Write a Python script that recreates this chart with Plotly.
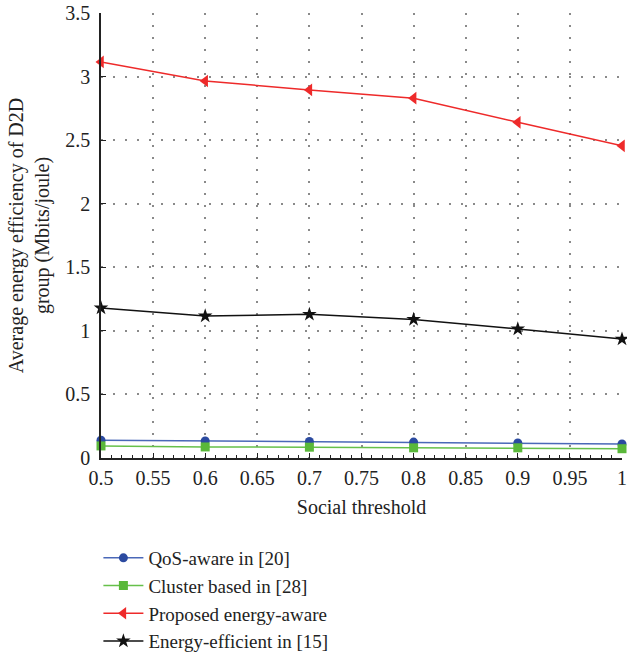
import plotly.graph_objects as go

# Social threshold values (x axis)
social_threshold = [0.5, 0.6, 0.7, 0.8, 0.9, 1.0]

# Average energy efficiency of D2D group (Mbits/joule)
qos_aware = [0.14, 0.134, 0.13, 0.125, 0.118, 0.11]
cluster_based = [0.095, 0.087, 0.085, 0.08, 0.08, 0.073]
proposed = [3.115, 2.965, 2.895, 2.83, 2.64, 2.455]
energy_efficient = [1.18, 1.117, 1.13, 1.09, 1.015, 0.935]

x_ticks = [0.5, 0.55, 0.6, 0.65, 0.7, 0.75, 0.8, 0.85, 0.9, 0.95, 1.0]
x_tick_text = ["0.5", "0.55", "0.6", "0.65", "0.7", "0.75", "0.8", "0.85", "0.9", "0.95", "1"]
y_ticks = [0, 0.5, 1, 1.5, 2, 2.5, 3, 3.5]
y_tick_text = ["0", "0.5", "1", "1.5", "2", "2.5", "3", "3.5"]

FONT = "Liberation Serif"
INK = "#222222"

fig = go.Figure()

series = [
    ("QoS-aware in [20]", qos_aware, "#4a68b8", "#2b4aa0", "circle", 9),
    ("Cluster based in [28]", cluster_based, "#66c04a", "#5ab83a", "square", 9),
    ("Proposed energy-aware", proposed, "#ee2a2a", "#ee2a2a", "triangle-left", 11),
    ("Energy-efficient in [15]", energy_efficient, "#111111", "#111111", "star", 11),
]
for name, vals, lcol, mcol, sym, size in series:
    fig.add_trace(go.Scatter(
        x=social_threshold, y=vals, name=name, mode="lines+markers",
        line=dict(color=lcol, width=1.5),
        marker=dict(symbol=sym, size=size, color=mcol, line=dict(width=0)),
        cliponaxis=False,
    ))

grid = dict(showgrid=True, gridcolor="#8a8a8a", griddash="2px,10px", gridwidth=1.5)

fig.update_xaxes(
    range=[0.5, 1.0], tickvals=x_ticks, ticktext=x_tick_text,
    ticks="inside", ticklen=5, tickcolor=INK, ticklabelstandoff=1,
    tickfont=dict(size=20),
    minor=dict(dtick=0.01, ticks="inside", ticklen=3, tickcolor=INK, showgrid=False),
    showline=True, linecolor=INK, linewidth=1.5,
    zeroline=False, title=dict(text="Social threshold", standoff=12, font=dict(size=20)),
    **grid,
)
fig.update_yaxes(
    range=[0, 3.5], tickvals=y_ticks, ticktext=y_tick_text,
    ticks="inside", ticklen=5, tickcolor=INK, ticklabelstandoff=5,
    tickfont=dict(size=20),
    showline=True, linecolor=INK, linewidth=1.5,
    zeroline=False,
    title=dict(text="Average energy efficiency of D2D<br>group (Mbits/joule)", standoff=10,
               font=dict(size=20)),
    **grid,
)

fig.update_layout(
    width=627, height=652,
    margin=dict(l=101, r=5, t=13, b=194, autoexpand=False),
    paper_bgcolor="white", plot_bgcolor="white",
    font=dict(family=FONT, size=18, color=INK),
    showlegend=True,
    legend=dict(
        x=-0.005, y=-0.182, xanchor="left", yanchor="top",
        font=dict(family=FONT, size=19, color=INK),
        tracegroupgap=0, itemwidth=40,
        bgcolor="rgba(0,0,0,0)",
    ),
)

fig.write_html("out.html")
